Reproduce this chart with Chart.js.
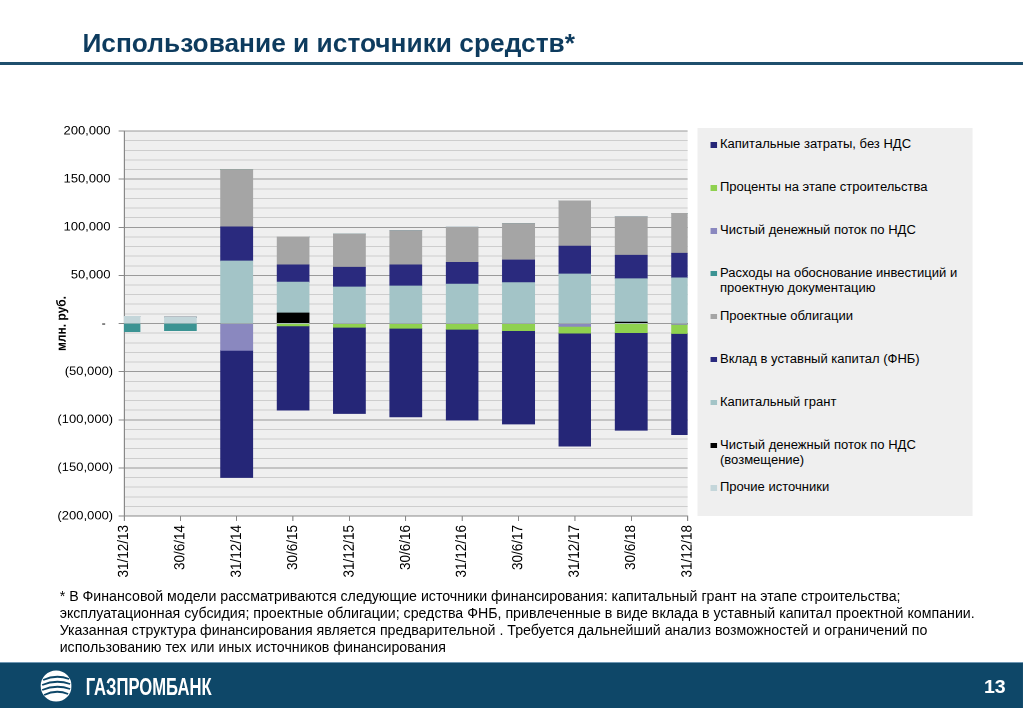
<!DOCTYPE html>
<html>
<head>
<meta charset="utf-8">
<script src="https://cdn.jsdelivr.net/npm/chart.js@4.4.1/dist/chart.umd.min.js"></script>
<style>
html,body{margin:0;padding:0;background:#fff;width:1023px;height:708px;overflow:hidden;}
#slide{position:absolute;left:0;top:0;width:943px;height:708px;transform-origin:0 0;transform:scaleX(1.0848);font-family:"Liberation Sans",Arial,Helvetica,sans-serif;color:#000;}
#title{position:absolute;left:75.6px;top:28px;font-size:26px;font-weight:bold;color:#0d3b5e;white-space:nowrap;line-height:30px;transform-origin:0 0;}
#rule{position:absolute;left:0;top:62px;width:943px;height:3px;background:#1f4f6d;}
#chartBox{position:absolute;left:10px;top:105px;width:644px;height:490px;}
#legend{position:absolute;left:643.4px;top:128px;width:252.6px;height:388px;background:#efefef;}
.li{position:absolute;left:0;width:252px;font-size:12px;line-height:15.5px;}
.li .mk{position:absolute;left:12px;top:5px;width:5.5px;height:5.5px;}
.li .tx{position:absolute;left:20.3px;top:0;width:228px;}
#note{position:absolute;left:55.3px;top:588px;font-size:14px;line-height:17px;transform-origin:0 0;}
#note span{display:inline-block;white-space:nowrap;}
#bar{position:absolute;left:0;top:662px;width:943px;height:46px;background:#0e4768;border-top:1px solid #6f97b3;}
#logo{position:absolute;left:36.9px;top:7px;}
#bank{position:absolute;left:79.3px;top:11px;font-size:24px;font-weight:bold;color:#fff;white-space:nowrap;line-height:26px;transform-origin:0 0;}
#page{position:absolute;left:907px;top:14px;font-size:18px;font-weight:bold;color:#fff;line-height:20px;}
</style>
</head>
<body>
<div id="slide">
  <div id="title">Использование и источники средств*</div>
  <div id="rule"></div>
  <div id="chartBox"><canvas id="c" width="644" height="490"></canvas></div>
  <div id="legend"></div>
  <div id="note"><span>* В Финансовой модели рассматриваются следующие источники финансирования: капитальный грант на этапе строительства;</span><br><span id="longLine">эксплуатационная субсидия; проектные облигации; средства ФНБ, привлеченные в виде вклада в уставный капитал проектной компании.</span><br><span>Указанная структура финансирования является предварительной . Требуется дальнейший анализ возможностей и ограничений по</span><br><span>использованию тех или иных источников финансирования</span></div>
  <div id="bar">
    <svg id="logo" width="29.5" height="32" viewBox="0 0 32 32" preserveAspectRatio="none">
      <circle cx="16" cy="16" r="15.5" fill="#ffffff"/>
      <g fill="none" stroke="#0e4768" stroke-width="1.8">
        <path d="M3,10 Q16,4 29,9"/>
        <path d="M2,15 Q16,9 30,14"/>
        <path d="M2,20 Q16,14 30,19"/>
        <path d="M4,25 Q16,19 28,24"/>
      </g>
    </svg>
    <div id="bank">ГАЗПРОМБАНК</div>
    <div id="page">13</div>
  </div>
</div>
<script>
// ---- data (млн. руб.) ----
const categories = ['31/12/13','30/6/14','31/12/14','30/6/15','31/12/15','30/6/16','31/12/16','30/6/17','31/12/17','30/6/18','31/12/18'];

// series in stacking order (bottom first)
const prochie      = [7500, 6500, 0, 0, 0, 0, 0, 0, 0, 0, 0];
const vozmeschenie = [0, 0, 0, 11000, 0, 0, 0, 0, 0, 1500, 0];
const grant        = [0, 0, 65000, 32000, 38000, 39000, 41000, 42500, 51500, 45000, 47500];
const fnb          = [0, 0, 35500, 18000, 20500, 22000, 22500, 23500, 29000, 24500, 25500];
const bonds        = [0, 0, 59500, 29000, 34500, 35500, 36500, 38000, 47000, 40000, 41500];
const raskhody     = [-8500, -7500, 0, 0, 0, 0, 0, 0, 0, 0, 0];
const nds          = [0, 0, -28000, 0, 0, 0, 0, 0, -3000, 0, -1000];
const procenty     = [0, 0, 0, -2500, -4000, -5000, -6000, -7500, -7000, -9500, -9500];
const capex        = [0, 0, -132000, -87500, -89500, -92000, -94500, -97000, -117500, -101500, -105000];

const seriesNames = [
  'Прочие источники',
  'Чистый денежный поток по НДС (возмещение)',
  'Капитальный грант',
  'Вклад в уставный капитал (ФНБ)',
  'Проектные облигации',
  'Расходы на обоснование инвестиций и проектную документацию',
  'Чистый денежный поток по НДС',
  'Проценты на этапе строительства',
  'Капитальные затраты, без НДС'
];
const seriesColors = ['#c4d6da','#000000','#a3c4c7','#2a2a7e','#a5a5a5','#3b9393','#8a88bf','#8fd14f','#252677'];
const seriesData = [prochie, vozmeschenie, grant, fnb, bonds, raskhody, nds, procenty, capex];

const FONT = '"Liberation Sans", Arial, sans-serif';

const plotBg = {
  id: 'plotBg',
  beforeDraw(c) {
    const a = c.chartArea, ctx = c.ctx;
    ctx.save();
    ctx.fillStyle = '#efefef';
    ctx.fillRect(a.left, a.top, a.right - a.left, a.bottom - a.top);
    ctx.restore();
  }
};

const isMajor = v => v % 50000 === 0;

new Chart(document.getElementById('c'), {
  type: 'bar',
  data: {
    labels: categories,
    datasets: seriesNames.map((n, i) => ({
      label: n,
      data: seriesData[i],
      backgroundColor: seriesColors[i],
      borderWidth: 0,
      barThickness: 29.5,
      stack: 's',
      clip: 0
    }))
  },
  options: {
    responsive: false,
    animation: false,
    devicePixelRatio: 2,
    layout: { padding: { top: 26, right: 8, left: 0, bottom: 0 } },
    plugins: { legend: { display: false }, tooltip: { enabled: false } },
    scales: {
      x: {
        stacked: true,
        offset: false,
        grid: { display: true, offset: false, drawOnChartArea: false, tickLength: 5, color: '#888' },
        border: { color: '#888' },
        ticks: { minRotation: 90, maxRotation: 90, autoSkip: false, padding: 4, color: '#000', font: { family: FONT, size: 13.5 } },
        afterFit(s) { s.height = 79; }
      },
      y: {
        stacked: true,
        min: -200000,
        max: 200000,
        ticks: {
          stepSize: 10000,
          autoSkip: false,
          padding: 5,
          color: '#000',
          font: { family: FONT, size: 12 },
          callback(v) {
            if (!isMajor(v)) return '';
            if (v === 0) return '-  ';
            const s = Math.abs(v).toLocaleString('en-US');
            return v < 0 ? '(' + s + ')' : s + '\u2009';
          }
        },
        grid: {
          color: ctx => (ctx.tick && isMajor(ctx.tick.value)) ? '#9a9a9a' : '#cdcdcd',
          tickColor: ctx => (ctx.tick && isMajor(ctx.tick.value)) ? '#888' : 'rgba(0,0,0,0)',
          tickLength: 5
        },
        border: { color: '#888' },
        title: { display: true, text: 'млн. руб.', color: '#000', font: { family: FONT, size: 12, weight: 'bold' }, padding: { top: 40, bottom: 0 } },
        afterFit(s) { s.width = 104.3; }
      }
    }
  },
  plugins: [plotBg]
});

// ---- legend (reverse of stacking order, as in the source) ----
const leg = document.getElementById('legend');
const order = seriesNames.map((_, i) => i).reverse();
order.forEach((si, k) => {
  const d = document.createElement('div');
  d.className = 'li';
  d.style.top = (9.25 + k * 42.9) + 'px';
  const m = document.createElement('div');
  m.className = 'mk';
  m.style.background = seriesColors[si];
  const t = document.createElement('div');
  t.className = 'tx';
  t.textContent = seriesNames[si];
  d.appendChild(m); d.appendChild(t);
  leg.appendChild(d);
});

// ---- fit texts to the source widths (natural px) ----
function fitTo(el, w, measureEl) {
  const cur = (measureEl || el).getBoundingClientRect().width / 1.0848;
  if (cur > 0) el.style.transform = 'scaleX(' + (w / cur) + ')';
}
fitTo(document.getElementById('title'), 454);
fitTo(document.getElementById('note'), 843.5, document.getElementById('longLine'));
fitTo(document.getElementById('bank'), 116);
</script>
</body>
</html>
